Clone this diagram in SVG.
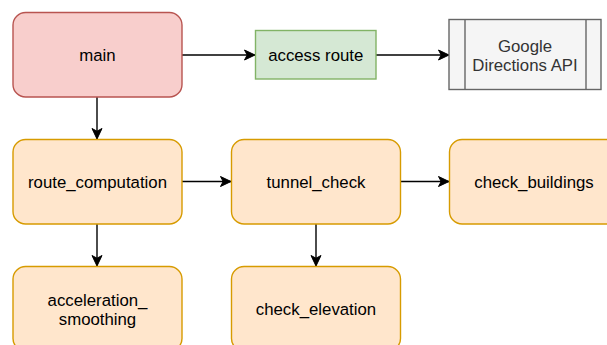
<svg xmlns="http://www.w3.org/2000/svg" width="607" height="345" viewBox="0 0 607 345">
  <defs>
    <style>
      .node rect { stroke-width: 1.4; }
      .red { fill: #f8cecc; stroke: #b85450; }
      .green { fill: #d5e8d4; stroke: #82b366; }
      .grey { fill: #f5f5f5; stroke: #666666; }
      .orange { fill: #ffe6cc; stroke: #d79b00; }
      .sep { stroke: #666666; stroke-width: 1.4; fill: none; }
      text { font-family: "Liberation Sans", Arial, Helvetica, sans-serif; font-size: 16.8px; fill: #000000; text-anchor: middle; }
      text.muted { fill: #333333; }
      .edge { stroke: #000000; stroke-width: 1.4; fill: none; marker-end: url(#arrow); }
    </style>
    <marker id="arrow" viewBox="-11 -6 12 12" refX="0" refY="0" markerWidth="12" markerHeight="12" markerUnits="userSpaceOnUse" orient="auto">
      <path d="M0,0 L-10.5,-5 L-7.8,0 L-10.5,5 Z" fill="#000000" stroke="#000000" stroke-width="1"/>
    </marker>
  </defs>

  <g id="connectors">
    <path class="edge" d="M182,55 L255,55"/>
    <path class="edge" d="M376,55 L449,55"/>
    <path class="edge" d="M97,97 L97,139"/>
    <path class="edge" d="M182,181.5 L231,181.5"/>
    <path class="edge" d="M400,181.5 L449,181.5"/>
    <path class="edge" d="M97,224 L97,266"/>
    <path class="edge" d="M316,224 L316,266"/>
  </g>

  <g id="main" class="node">
    <rect class="red" x="13" y="12.5" width="169" height="84.5" rx="12.6" ry="12.6"/>
    <text x="97.5" y="60.5">main</text>
  </g>

  <g id="access-route" class="node">
    <rect class="green" x="255.5" y="30.5" width="120.5" height="48.5"/>
    <text x="315.75" y="60.5">access route</text>
  </g>

  <g id="google-directions-api" class="node">
    <rect class="grey" x="449" y="19.5" width="152" height="70"/>
    <line class="sep" x1="465" y1="19.5" x2="465" y2="89.5"/>
    <line class="sep" x1="586" y1="19.5" x2="586" y2="89.5"/>
    <text class="muted" x="525" y="51.5">Google</text>
    <text class="muted" x="525" y="71">Directions API</text>
  </g>

  <g id="route-computation" class="node">
    <rect class="orange" x="13" y="139.5" width="169" height="84.5" rx="12.6" ry="12.6"/>
    <text x="97.5" y="187.5">route_computation</text>
  </g>

  <g id="tunnel-check" class="node">
    <rect class="orange" x="231.5" y="139.5" width="169" height="84.5" rx="12.6" ry="12.6"/>
    <text x="316" y="187.5">tunnel_check</text>
  </g>

  <g id="check-buildings" class="node">
    <rect class="orange" x="449.5" y="139.5" width="169" height="84.5" rx="12.6" ry="12.6"/>
    <text x="534" y="187.5">check_buildings</text>
  </g>

  <g id="acceleration-smoothing" class="node">
    <rect class="orange" x="13" y="266.5" width="169" height="84.5" rx="12.6" ry="12.6"/>
    <text x="97.5" y="305.5">acceleration_</text>
    <text x="97.5" y="325">smoothing</text>
  </g>

  <g id="check-elevation" class="node">
    <rect class="orange" x="231.5" y="266.5" width="169" height="84.5" rx="12.6" ry="12.6"/>
    <text x="316" y="315">check_elevation</text>
  </g>
</svg>
